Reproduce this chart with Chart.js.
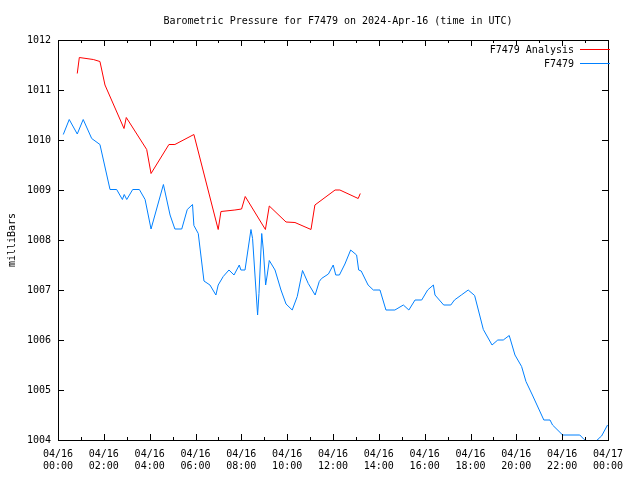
<!DOCTYPE html>
<html lang="en">
  <head>
    <meta charset="UTF-8" />
    <title>Barometric Pressure for F7479</title>
    <script src="https://cdn.jsdelivr.net/npm/chart.js"></script>
    <style>
      body { margin: 0; background: #fff; }
      #wrap { width: 640px; height: 480px; }
    </style>
  </head>
  <body>
    <div id="wrap"><canvas id="pressureChart" width="640" height="480"></canvas></div>

    <script>
      // hours since 2024-04-16 00:00 UTC, pressure in mbar
      const analysisHours = [0.84, 0.93, 1.54, 1.83, 2.05, 2.88, 2.98, 3.87, 4.06, 4.84, 5.1, 5.93,
        6.99, 7.11, 7.72, 8.01, 8.17, 9.05, 9.22, 9.95, 10.34, 11.04, 11.21, 12.09, 12.3, 13.1, 13.19];
      const analysisValues = [1011.33, 1011.65, 1011.61, 1011.57, 1011.1, 1010.23, 1010.45, 1009.81, 1009.33, 1009.91, 1009.91, 1010.11,
        1008.21, 1008.57, 1008.6, 1008.62, 1008.87, 1008.21, 1008.68, 1008.36, 1008.35, 1008.21, 1008.7, 1009.0, 1009.0, 1008.83, 1008.93];

      const stationHours = [0.23, 0.49, 0.84, 1.1, 1.47, 1.83, 2.27, 2.56, 2.81, 2.89, 3.0, 3.26, 3.55, 3.8,
        4.06, 4.6, 4.89, 5.1, 5.4, 5.64, 5.87, 5.93, 6.12, 6.37, 6.63, 6.89, 6.99, 7.21, 7.46, 7.68, 7.91,
        7.98, 8.16, 8.42, 8.49, 8.71, 8.77, 8.89, 8.96, 9.06, 9.13, 9.22, 9.47, 9.73, 9.95, 10.22, 10.44,
        10.67, 10.92, 11.22, 11.4, 11.5, 11.8, 12.01, 12.12, 12.28, 12.52, 12.77, 13.03, 13.12, 13.23,
        13.53, 13.76, 14.05, 14.31, 14.7, 15.07, 15.31, 15.58, 15.87, 16.13, 16.38, 16.45, 16.83, 17.14,
        17.3, 17.6, 17.9, 18.18, 18.56, 18.94, 19.19, 19.43, 19.69, 19.94, 20.23, 20.42, 20.7, 21.0,
        21.2, 21.47, 21.58, 22.02, 22.77, 22.96, 23.2, 23.45, 23.57, 23.72, 23.98];
      const stationValues = [1010.11, 1010.41, 1010.12, 1010.41, 1010.03, 1009.91, 1009.01, 1009.01, 1008.81, 1008.91, 1008.81, 1009.01, 1009.01, 1008.81,
        1008.22, 1009.11, 1008.5, 1008.22, 1008.22, 1008.61, 1008.71, 1008.29, 1008.13, 1007.18, 1007.1, 1006.9, 1007.1, 1007.27, 1007.4, 1007.3, 1007.5,
        1007.4, 1007.4, 1008.21, 1008.03, 1006.5, 1006.93, 1008.13, 1007.8, 1007.1, 1007.3, 1007.59, 1007.4, 1007.0, 1006.72, 1006.6, 1006.87,
        1007.39, 1007.13, 1006.9, 1007.17, 1007.23, 1007.32, 1007.5, 1007.3, 1007.3, 1007.52, 1007.8, 1007.7, 1007.4, 1007.38,
        1007.1, 1007.0, 1007.0, 1006.6, 1006.6, 1006.7, 1006.6, 1006.8, 1006.8, 1007.0, 1007.1, 1006.9, 1006.7, 1006.7,
        1006.8, 1006.9, 1007.0, 1006.89, 1006.21, 1005.9, 1006.0, 1006.0, 1006.09, 1005.7, 1005.47, 1005.17, 1004.9, 1004.6,
        1004.4, 1004.4, 1004.3, 1004.1, 1004.1, 1004.01, 1003.95, 1003.95, 1004.02, 1004.08, 1004.3];

      const hourTicks = [0, 2, 4, 6, 8, 10, 12, 14, 16, 18, 20, 22, 24];
      const pressureTicks = [1004, 1005, 1006, 1007, 1008, 1009, 1010, 1011, 1012];
      const chartTitle = 'Barometric Pressure for F7479 on 2024-Apr-16 (time in UTC)';
      const seriesColors = ['#ff0000', '#0080ff'];

      const FONT = '"DejaVu Sans Mono", "Liberation Mono", monospace';

      function toPoints(xs, ys) {
        return xs.map((x, i) => ({ x: x, y: ys[i] }));
      }

      // gnuplot style: title, frame with inward ticks, legend in the top right corner
      const framePlugin = {
        id: 'frame',
        afterDatasetsDraw(chart) {
          const { ctx, chartArea: a, scales: { x, y } } = chart;
          ctx.save();
          ctx.lineWidth = 1;
          ctx.strokeStyle = '#000';
          ctx.strokeRect(a.left + 0.5, a.top + 0.5, a.right - a.left, a.bottom - a.top);
          ctx.beginPath();
          for (let h = 0; h <= 24; h++) {
            const px = Math.round(x.getPixelForValue(h)) + 0.5;
            const len = h % 2 === 0 ? 6 : 3;
            ctx.moveTo(px, a.bottom); ctx.lineTo(px, a.bottom - len);
            ctx.moveTo(px, a.top); ctx.lineTo(px, a.top + len);
          }
          pressureTicks.forEach(v => {
            const py = Math.round(y.getPixelForValue(v)) + 0.5;
            ctx.moveTo(a.left, py); ctx.lineTo(a.left + 6, py);
            ctx.moveTo(a.right, py); ctx.lineTo(a.right - 6, py);
          });
          ctx.stroke();

          ctx.fillStyle = '#000';
          ctx.textBaseline = 'middle';
          ctx.font = '10px ' + FONT;
          ctx.textAlign = 'center';
          ctx.fillText(chartTitle, 338, 21);

          ctx.textAlign = 'right';
          chart.data.datasets.forEach((ds, i) => {
            const ly = Math.round(a.top + 9 + i * 14);
            ctx.fillStyle = '#000';
            ctx.fillText(ds.label, a.right - 34, ly + 1.5);
            ctx.fillStyle = seriesColors[i];
            ctx.fillRect(a.right - 28, ly, 30, 1);
          });
          ctx.restore();
        }
      };

      new Chart(document.getElementById('pressureChart'), {
        type: 'line',
        data: {
          datasets: [
            { label: 'F7479 Analysis', data: toPoints(analysisHours, analysisValues),
              borderColor: seriesColors[0], borderWidth: 1, pointRadius: 0, tension: 0, fill: false },
            { label: 'F7479', data: toPoints(stationHours, stationValues),
              borderColor: seriesColors[1], borderWidth: 1, pointRadius: 0, tension: 0, fill: false }
          ]
        },
        options: {
          responsive: false,
          animation: false,
          layout: { padding: { left: 0, right: 32, top: 40, bottom: 0 } },
          plugins: {
            legend: { display: false },
            tooltip: { enabled: false },
            title: { display: false }
          },
          scales: {
            x: {
              type: 'linear',
              min: 0, max: 24,
              afterBuildTicks: s => { s.ticks = hourTicks.map(v => ({ value: v })); },
              afterFit: s => { s.height = 40; },
              grid: { display: false, drawTicks: false },
              border: { display: false },
              ticks: {
                color: '#000',
                padding: 8,
                maxRotation: 0,
                autoSkip: false,
                font: { family: FONT, size: 10 },
                callback: v => v === 24 ? ['04/17', '00:00'] : ['04/16', String(v).padStart(2, '0') + ':00']
              }
            },
            y: {
              min: 1004, max: 1012,
              afterBuildTicks: s => { s.ticks = pressureTicks.map(v => ({ value: v })); },
              afterFit: s => { s.width = 58; },
              grid: { display: false, drawTicks: false },
              border: { display: false },
              title: {
                display: true,
                text: 'milliBars',
                color: '#000',
                font: { family: FONT, size: 10 },
                padding: { top: 6, bottom: 0 }
              },
              ticks: {
                color: '#000',
                padding: 7,
                font: { family: FONT, size: 10 },
                callback: v => String(v)
              }
            }
          }
        },
        plugins: [framePlugin]
      });
    </script>
  </body>
</html>
